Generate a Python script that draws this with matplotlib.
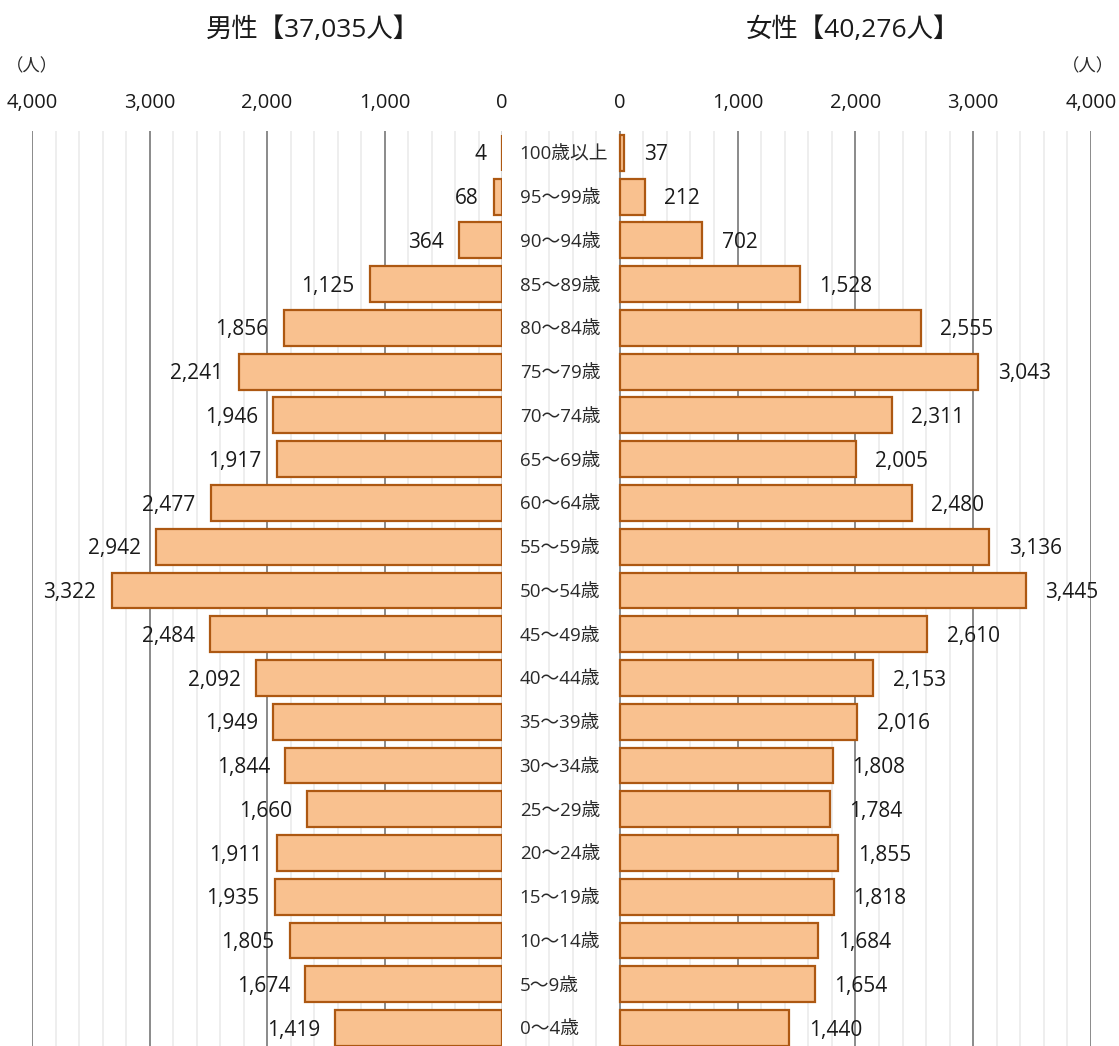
import matplotlib
matplotlib.use('Agg')
import matplotlib.pyplot as plt
import numpy as np

plt.rcParams['font.family'] = ['Open Sans', 'Noto Sans CJK JP', 'DejaVu Sans']

# 年齢階級（上から）
age_groups = ['100歳以上', '95～99歳', '90～94歳', '85～89歳', '80～84歳', '75～79歳',
              '70～74歳', '65～69歳', '60～64歳', '55～59歳', '50～54歳', '45～49歳',
              '40～44歳', '35～39歳', '30～34歳', '25～29歳', '20～24歳', '15～19歳',
              '10～14歳', '5～9歳', '0～4歳']
male = [4, 68, 364, 1125, 1856, 2241, 1946, 1917, 2477, 2942, 3322, 2484,
        2092, 1949, 1844, 1660, 1911, 1935, 1805, 1674, 1419]
female = [37, 212, 702, 1528, 2555, 3043, 2311, 2005, 2480, 3136, 3445, 2610,
          2153, 2016, 1808, 1784, 1855, 1818, 1684, 1654, 1440]
major_ticks = [0, 1000, 2000, 3000, 4000]
male_title = '男性【37,035人】'
female_title = '女性【40,276人】'
unit = '（人）'

W, H = 1119, 1046
fig = plt.figure(figsize=(W / 100, H / 100), dpi=100)

fill = '#f9c18f'
edge = '#ad5812'
grid_major = '#8a8a8a'
grid_minor = '#ebebeb'
txt = '#1a1a1a'

ax_top = 131
ax_h = (H - ax_top) / H
ax_l = fig.add_axes([32 / W, 0, 470 / W, ax_h])
ax_r = fig.add_axes([502 / W, 0, 589 / W, ax_h])

y = np.arange(len(age_groups))

for ax in (ax_l, ax_r):
    for s in ax.spines.values():
        s.set_visible(False)
    ax.set_ylim(20.41, -0.5)
    ax.set_yticks([])
    ax.xaxis.tick_top()
    ax.tick_params(axis='x', which='both', length=0, pad=13, labelsize=14.5, labelcolor=txt)
    ax.set_axisbelow(True)

# 左（男性）
ax_l.set_xlim(4000, 0)
ax_l.set_xticks(major_ticks)
ax_l.set_xticklabels([f'{t:,}' for t in major_ticks])
ax_l.set_xticks([v for v in range(0, 4001, 200) if v % 1000], minor=True)
ax_l.grid(axis='x', which='major', color=grid_major, lw=1.4)
ax_l.grid(axis='x', which='minor', color=grid_minor, lw=1.2)
ax_l.xaxis.get_gridlines()[0].set_color('#d9d9d9')
ax_l.barh(y, male, height=0.82, color=fill, edgecolor=edge, linewidth=1.6)
for yi, v in zip(y, male):
    ax_l.annotate(f'{v:,}', (v, yi), xytext=(-11, -1.5), textcoords='offset points',
                  ha='right', va='center', fontsize=15, color=txt)

# 右（女性）
ax_r.set_xlim(-1000, 4000)
ax_r.set_xticks(major_ticks)
ax_r.set_xticklabels([f'{t:,}' for t in major_ticks])
ax_r.set_xticks([v for v in range(-800, 4001, 200) if v % 1000], minor=True)
ax_r.grid(axis='x', which='major', color=grid_major, lw=1.4)
ax_r.grid(axis='x', which='minor', color=grid_minor, lw=1.2)
ax_r.barh(y, female, height=0.82, color=fill, edgecolor=edge, linewidth=1.6)
for yi, v in zip(y, female):
    ax_r.annotate(f'{v:,}', (v, yi), xytext=(14, -1.5), textcoords='offset points',
                  ha='left', va='center', fontsize=15, color=txt)

# 年齢ラベル
for yi, lab in zip(y, age_groups):
    ax_r.annotate(lab, (-850, yi), xytext=(0, -1), textcoords='offset points',
                  ha='left', va='center', fontsize=13.5, color='#2a2a2a')

fig.text(313 / W, 1 - 30 / H, male_title, ha='center', va='center', fontsize=19, color=txt)
fig.text(853 / W, 1 - 30 / H, female_title, ha='center', va='center', fontsize=19, color=txt)
fig.text(32 / W, 1 - 67 / H, unit, ha='center', va='center', fontsize=12.5, color='#2a2a2a')
fig.text(1088 / W, 1 - 67 / H, unit, ha='center', va='center', fontsize=12.5, color='#2a2a2a')

fig.savefig('out.png', dpi=100, facecolor='white')
